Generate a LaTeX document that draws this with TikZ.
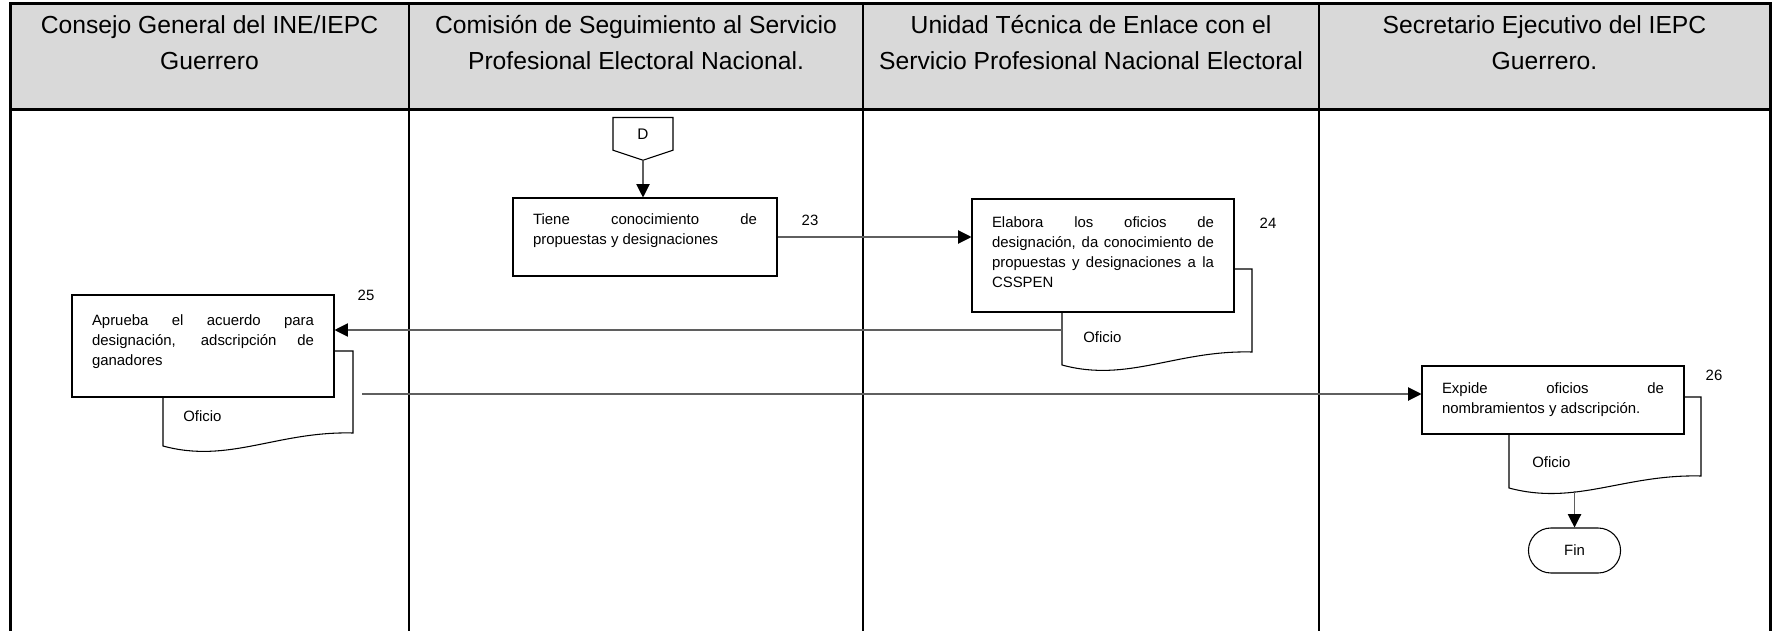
\documentclass[tikz,border=0pt]{standalone}
\usepackage{fontspec}
\setmainfont{Liberation Sans}
\usetikzlibrary{arrows.meta,positioning,shapes.symbols,shapes.misc}
\definecolor{lane_gray}{RGB}{217,217,217}
\definecolor{link_gray}{RGB}{95,95,95}

\begin{document}
\begin{tikzpicture}[
      x=0.75pt, y=-0.75pt,
      head/.style={align=center, font=\fontsize{18.5}{27}\selectfont},
      box/.style={draw, fill=white, line width=0.8pt, text width=166.5pt,
                  inner xsep=15pt, align=justify,
                  font=\fontsize{11.2}{15}\selectfont},
      lift/.style={execute at end node={\endgraf\vspace*{#1}}},
      num/.style={font=\fontsize{11.2}{15}\selectfont},
      doctxt/.style={font=\fontsize{11.2}{15}\selectfont, anchor=west, inner sep=0pt},
      docshape/.style={draw, fill=white, line width=0.8pt},
      offpage/.style={draw, fill=white, shape=signal, signal to=south,
                      signal pointer angle=143, minimum width=45pt,
                      minimum height=27pt, line width=0.8pt,
                      font=\fontsize{11.5}{14}\selectfont},
      term/.style={draw, fill=white, rounded rectangle, minimum width=75.75pt,
                   minimum height=33.75pt, line width=0.8pt,
                   font=\fontsize{11.2}{14}\selectfont},
      arr/.style={-{Triangle[length=10pt, width=10pt, color=black]},
                  link_gray, line width=0.8pt},
      frame/.style={line width=2.25pt},
      lane/.style={line width=1.5pt},
    ]
    \useasboundingbox (0,0) rectangle (1772,631);

    % lanes and header
    \fill[lane_gray] (10,4) rectangle (1770,110);
    \foreach \x in {409,863,1319}
      \draw[lane] (\x,4) -- (\x,631);
    \draw[frame] (10,631) -- (10,4) -- (1770,4) -- (1770,631);
    \draw[frame] (10,110) -- (1770,110);

    \node[head] (hcg)  at (209.5,43) {Consejo General del INE/IEPC\\Guerrero};
    \node[head] (hcs)  at (636,43)   {Comisión de Seguimiento al Servicio\\Profesional Electoral Nacional.};
    \node[head] (hut)  at (1091,43)  {Unidad Técnica de Enlace con el\\Servicio Profesional Nacional Electoral};
    \node[head] (hsec) at (1544.5,43) {Secretario Ejecutivo del IEPC\\Guerrero.};

    % documents (behind the boxes)
    \draw[docshape] (1062,269) -- (1062,365) .. controls (1128,383) and (1176,350) .. (1252,352) -- (1252,269) -- cycle;
    \draw[docshape] (163,351) -- (163,446) .. controls (229,464) and (277,431) .. (353,433) -- (353,351) -- cycle;
    \draw[docshape] (1509,397) -- (1509,488) .. controls (1576,506) and (1624,474) .. (1701,476) -- (1701,397) -- cycle;
    \node[doctxt] (of24) at (1083,337) {Oficio};
    \node[doctxt] (of25) at (183,416)  {Oficio};
    \node[doctxt] (of26) at (1532,462) {Oficio};
    \coordinate (doc24w) at (1062,330);
    \coordinate (doc25e) at (362,394);
    \coordinate (doc26s) at (1575,491);

    % steps
    \node[offpage, anchor=north] (offD) at (643,117) {D};
    \node[box, text width=168pt, minimum height=58.5pt, lift=10pt] (box23) at (645,237)
      {Tiene conocimiento de\linebreak propuestas y designaciones};
    \node[box, minimum height=84.75pt, lift=5pt] (box24) at (1103,255.5)
      {Elabora los oficios de\linebreak designación, da conocimiento de\linebreak propuestas y designaciones a la\linebreak CSSPEN};
    \node[box, minimum height=76.5pt, lift=6pt] (box25) at (203,346)
      {Aprueba el acuerdo para\linebreak designación, adscripción de\linebreak ganadores};
    \node[box, minimum height=51pt] (box26) at (1553,400)
      {Expide oficios de\linebreak nombramientos y adscripción.};
    \node[term] (fin) at (1574.5,550.5) {Fin};

    \node[num] (n23) at (810,220)  {23};
    \node[num] (n24) at (1268,223) {24};
    \node[num] (n25) at (366,295)  {25};
    \node[num] (n26) at (1714,375) {26};

    % flow
    \draw[arr] (offD.south) -- (offD.south |- box23.north);
    \draw[arr] (box23.east) -- (box23.east -| box24.west);
    \draw[arr] (doc24w) -- (doc24w -| box25.east);
    \draw[arr] (doc25e) -- (doc25e -| box26.west);
    \draw[arr] (fin.north |- doc26s) -- (fin.north);
  \end{tikzpicture}
\end{document}
